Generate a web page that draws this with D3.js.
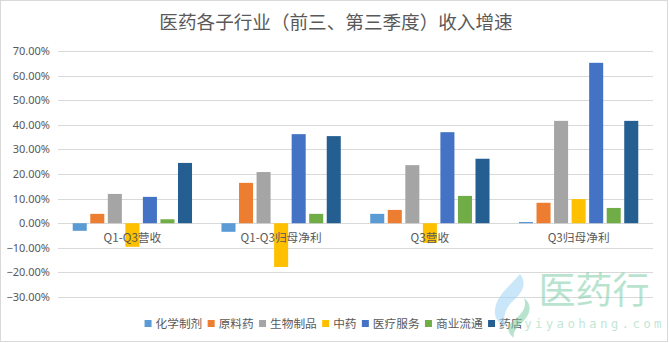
<!DOCTYPE html>
<html><head><meta charset="utf-8">
<script src="https://cdn.jsdelivr.net/npm/d3@7/dist/d3.min.js"></script>
<style>
html,body{margin:0;padding:0;background:#fff;}
svg{display:block;font-family:"Noto Sans CJK SC","Noto Sans",sans-serif;}
</style></head><body>
<svg id="c" width="669" height="343"></svg>
<script>
const title = "医药各子行业（前三、第三季度）收入增速";
const categories = ["Q1-Q3营收", "Q1-Q3归母净利", "Q3营收", "Q3归母净利"];
const seriesNames = ["化学制剂", "原料药", "生物制品", "中药", "医疗服务", "商业流通", "药店"];
const seriesColors = ["#5B9BD5", "#ED7D31", "#A5A5A5", "#FFC000", "#4472C4", "#70AD47", "#255E91"];
// values in percent, per series across categories
const chemDrugs   = [-3.1, -3.5, 3.8, 0.5];
const apiDrugs    = [3.8, 16.4, 5.4, 8.3];
const bioProducts = [11.9, 20.8, 23.6, 41.6];
const tcm         = [-9.6, -17.8, -8.0, 9.8];
const medServices = [10.7, 36.2, 37.0, 65.2];
const distribution= [1.6, 3.8, 11.1, 6.2];
const pharmacies  = [24.5, 35.4, 26.2, 41.6];
const seriesValues = [chemDrugs, apiDrugs, bioProducts, tcm, medServices, distribution, pharmacies];
const tickValues = [-30, -20, -10, 0, 10, 20, 30, 40, 50, 60, 70];

const svg = d3.select("#c");
const textColor = "#595959";

// chart border
svg.append("rect").attr("x", 0.5).attr("y", 0.5).attr("width", 667).attr("height", 341)
  .attr("fill", "#fff").attr("stroke", "#d9d9d9").attr("stroke-width", 1);

const left = 58, right = 653;
const y = d3.scaleLinear().domain([-30, 70]).range([297, 51]);
const x0 = d3.scaleBand().domain(categories).range([left, right]).padding(0);
const x1 = d3.scaleBand().domain(seriesNames)
  .range([x0.bandwidth() * 0.099, x0.bandwidth() * 0.901]).paddingInner(0.2);

// gridlines
svg.append("g").selectAll("line").data(tickValues).join("line")
  .attr("x1", left).attr("x2", right)
  .attr("y1", d => Math.round(y(d)) + 0.5).attr("y2", d => Math.round(y(d)) + 0.5)
  .attr("stroke", "#d9d9d9").attr("stroke-width", 1);

// y axis labels
const yAxis = d3.axisLeft(y).tickValues(tickValues).tickSize(0).tickPadding(0)
  .tickFormat(d => d3.format(".2f")(d) + "%");
const ga = svg.append("g").attr("transform", `translate(${left - 8},0)`).call(yAxis);
ga.select(".domain").remove();
ga.selectAll("text").attr("fill", textColor).style("font-size", "11px")
  .style("font-family", "'Noto Sans','Noto Sans CJK SC',sans-serif");

// bars
const groups = svg.append("g").selectAll("g").data(categories).join("g")
  .attr("transform", d => `translate(${x0(d)},0)`);
groups.selectAll("rect").data((c, ci) => seriesNames.map((s, si) => ({s, si, v: seriesValues[si][ci]})))
  .join("rect")
  .attr("x", d => x1(d.s))
  .attr("width", x1.bandwidth())
  .attr("y", d => y(Math.max(0, d.v)))
  .attr("height", d => Math.abs(y(d.v) - y(0)))
  .attr("fill", d => seriesColors[d.si]);

// category labels (just under zero line)
svg.append("g").selectAll("text").data(categories).join("text")
  .attr("x", d => x0(d) + x0.bandwidth() / 2)
  .attr("y", y(0) + 19)
  .attr("text-anchor", "middle")
  .attr("fill", textColor)
  .style("font-size", "11.7px")
  .text(d => d);

// title
svg.append("text").attr("x", 336).attr("y", 29).attr("text-anchor", "middle")
  .attr("fill", textColor).style("font-size", "18.6px").text(title);

// legend
const lg = svg.append("g");
const fs = 11.7, mk = 7, gapMT = 4, gapItem = 5.3;
let widths = seriesNames.map(n => mk + gapMT + n.length * fs);
let total = d3.sum(widths) + gapItem * (seriesNames.length - 1);
let cx = 333.5 - total / 2;
seriesNames.forEach((n, i) => {
  lg.append("rect").attr("x", cx).attr("y", 320).attr("width", mk).attr("height", mk)
    .attr("fill", seriesColors[i]);
  lg.append("text").attr("x", cx + mk + gapMT).attr("y", 328)
    .attr("fill", textColor).style("font-size", fs + "px").text(n);
  cx += widths[i] + gapItem;
});

// watermark
const wm = svg.append("g").attr("opacity", 0.55);
wm.append("path")
  .attr("d", "M520,274 C510,286 496,296 495,310 C494,318 499,324 506,326 C502,318 505,308 514,300 C523,292 527,283 520,274 Z")
  .attr("fill", "#9fd3f5");
wm.append("path")
  .attr("d", "M524,298 C528,308 520,316 512,322 C506,327 508,334 514,338 C512,330 520,326 526,318 C532,310 530,302 524,298 Z")
  .attr("fill", "#7fcfa8");
wm.append("text").attr("x", 594).attr("y", 304).attr("text-anchor", "middle")
  .attr("fill", "#7fcfa8").style("font-size", "37px").text("医药行");
wm.append("text").attr("x", 594.5).attr("y", 328).attr("text-anchor", "middle")
  .attr("fill", "#8fd4b3").style("font-size", "12.5px").style("letter-spacing", "3.3px")
  .style("font-family", "'DejaVu Sans Mono',monospace").text("yiyaohang.com");
</script>
</body></html>
